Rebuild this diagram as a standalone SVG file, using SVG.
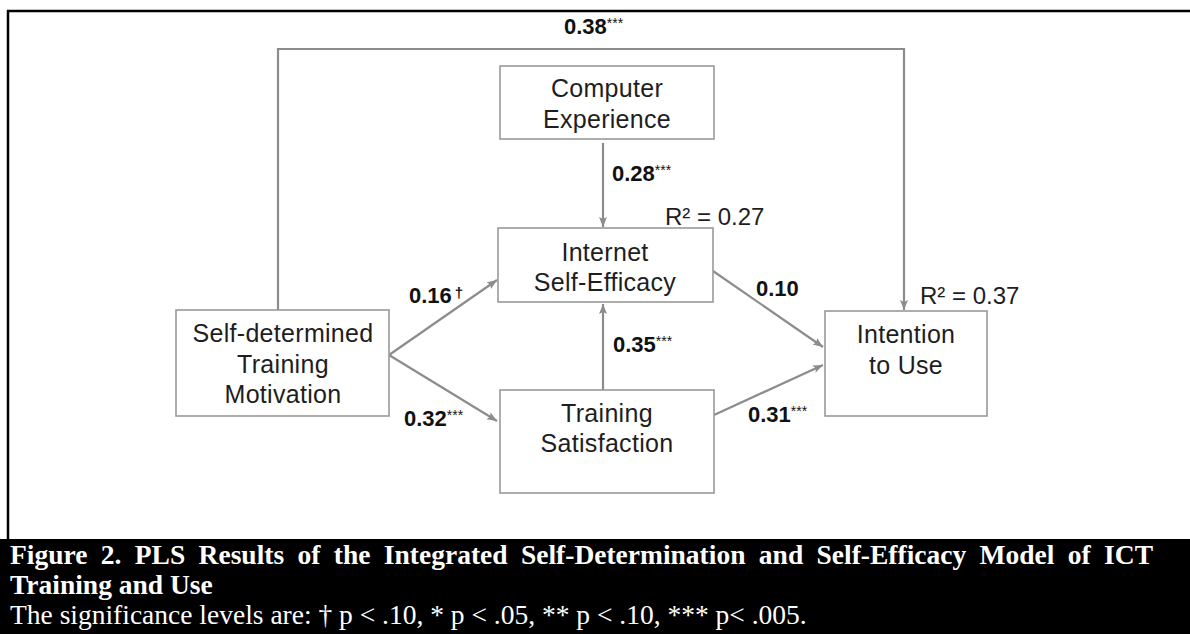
<svg xmlns="http://www.w3.org/2000/svg" width="1190" height="634" viewBox="0 0 1190 634">
<style>
.box{fill:#fff;stroke:#999;stroke-width:1.6}
.nt{font-family:"Liberation Sans",Arial,sans-serif;font-size:25px;letter-spacing:0.3px;fill:#1e1e1e;text-anchor:middle}
.lb{font-family:"Liberation Sans",Arial,sans-serif;font-size:22px;font-weight:bold;fill:#111}
.st{font-size:14px;font-weight:normal}
.r2{font-family:"Liberation Sans",Arial,sans-serif;font-size:24px;fill:#1e1e1e}
.cn{fill:none;stroke:#8c8c8c;stroke-width:2.2}
.cap{font-family:"Liberation Serif","Times New Roman",serif;font-size:27.5px;fill:#fff}
</style>
<defs>
<marker id="ah" markerUnits="userSpaceOnUse" markerWidth="12" markerHeight="10" refX="10" refY="4" orient="auto">
<path d="M0,0 L10,4 L0,8 L2,4 z" fill="#8c8c8c"/>
</marker>
</defs>
<rect x="0" y="0" width="1190" height="634" fill="#fff"/>
<line x1="7" y1="11" x2="1190" y2="11" stroke="#000" stroke-width="2.5"/>
<line x1="8" y1="10" x2="8" y2="540" stroke="#000" stroke-width="2.5"/>

<g id="connectors">
<path class="cn" d="M278,310 V49 H904 V310" marker-end="url(#ah)"/>
<path class="cn" d="M603,143 V227" marker-end="url(#ah)"/>
<path class="cn" d="M389,355 L497,280" marker-end="url(#ah)"/>
<path class="cn" d="M389,355 L497,421" marker-end="url(#ah)"/>
<path class="cn" d="M603,390 V304" marker-end="url(#ah)"/>
<path class="cn" d="M713,271 L823,347" marker-end="url(#ah)"/>
<path class="cn" d="M714,415 L823,365" marker-end="url(#ah)"/>
</g>

<g id="labels">
<text class="lb" x="564" y="34">0.38<tspan class="st" dy="-6">***</tspan></text>
<text class="lb" x="612" y="181">0.28<tspan class="st" dy="-6">***</tspan></text>
<text class="lb" x="409" y="303">0.16<tspan dx="3" dy="-5" font-size="15">†</tspan></text>
<text class="lb" x="756" y="296">0.10</text>
<text class="lb" x="613" y="352">0.35<tspan class="st" dy="-6">***</tspan></text>
<text class="lb" x="404" y="426">0.32<tspan class="st" dy="-6">***</tspan></text>
<text class="lb" x="748" y="422">0.31<tspan class="st" dy="-6">***</tspan></text>
<text class="r2" x="665" y="225">R² = 0.27</text>
<text class="r2" x="920" y="304">R² = 0.37</text>
</g>

<g id="node-computer">
<rect class="box" x="500" y="66" width="214" height="73"/>
<text class="nt" x="607" y="97">Computer</text>
<text class="nt" x="607" y="128">Experience</text>
</g>
<g id="node-internet">
<rect class="box" x="498" y="228" width="215" height="74"/>
<text class="nt" x="605" y="261">Internet</text>
<text class="nt" x="605" y="291">Self-Efficacy</text>
</g>
<g id="node-selfdetermined">
<rect class="box" x="176" y="310" width="213" height="106"/>
<text class="nt" x="283" y="342">Self-determined</text>
<text class="nt" x="283" y="373">Training</text>
<text class="nt" x="283" y="403">Motivation</text>
</g>
<g id="node-training">
<rect class="box" x="500" y="390" width="214" height="103"/>
<text class="nt" x="607" y="422">Training</text>
<text class="nt" x="607" y="452">Satisfaction</text>
</g>
<g id="node-intention">
<rect class="box" x="825" y="311" width="162" height="105"/>
<text class="nt" x="906" y="343">Intention</text>
<text class="nt" x="906" y="374">to Use</text>
</g>

<g id="caption">
<rect x="0" y="539" width="1190" height="95" fill="#000"/>
<text class="cap" x="10" y="564" font-weight="bold" word-spacing="6.5">Figure 2. PLS Results of the Integrated Self-Determination and Self-Efficacy Model of ICT</text>
<text class="cap" x="10" y="594" font-weight="bold">Training and Use</text>
<text class="cap" x="10" y="624">The significance levels are: † p &lt; .10, * p &lt; .05, ** p &lt; .10, *** p&lt; .005.</text>
</g>
</svg>
